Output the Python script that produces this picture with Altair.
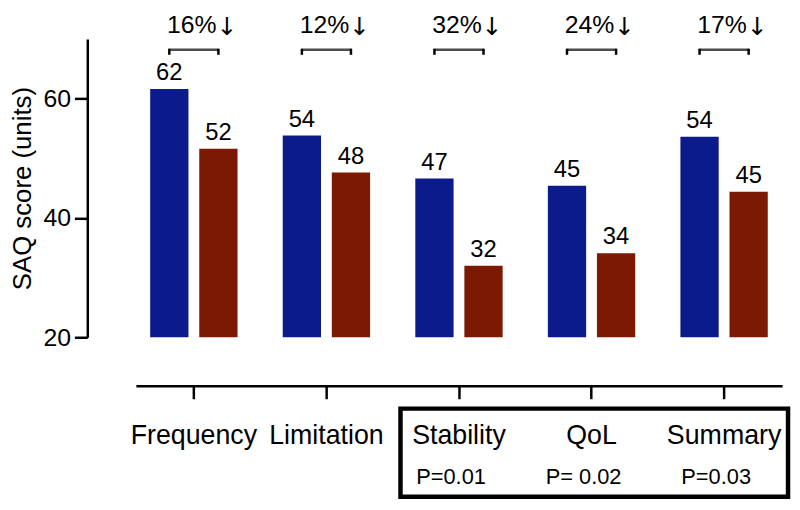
import altair as alt
import pandas as pd

# ---- data ----
categories = ["Frequency", "Limitation", "Stability", "QoL", "Summary"]
series = ["Before", "After"]
before_values = [61.6, 53.8, 46.6, 45.4, 53.6]
after_values = [51.6, 47.6, 32.0, 34.1, 44.4]
before_labels = ["62", "54", "47", "45", "54"]
after_labels = ["52", "48", "32", "34", "45"]
change_pct = ["16%", "12%", "32%", "24%", "17%"]
change_arrow = ["↓", "↓", "↓", "↓", "↓"]
boxed_categories = ["Stability", "QoL", "Summary"]
p_labels = ["P=0.01", "P= 0.02", "P=0.03"]
y_ticks = [20, 40, 60]
y_domain = [20, 70]
bar_colors = ["#0c1b8c", "#7c1903"]

rows = []
for i, c in enumerate(categories):
    rows.append({"category": c, "series": series[0], "value": before_values[i], "label": before_labels[i]})
    rows.append({"category": c, "series": series[1], "value": after_values[i], "label": after_labels[i]})
bars_df = pd.DataFrame(rows)
change_df = pd.DataFrame({"category": categories, "pct": change_pct, "arrow": change_arrow})
p_df = pd.DataFrame({"category": boxed_categories, "p": p_labels})
box_df = pd.DataFrame({"box": ["p-values"]})

FONT = "Liberation Sans"
ARROW_FONT = "DejaVu Sans"

x_enc = alt.X(
    "category:N",
    sort=categories,
    scale=alt.Scale(domain=categories, paddingInner=0.341, paddingOuter=0.108),
    axis=alt.Axis(
        title=None, offset=49, labelAngle=0,
        domainColor="black", domainWidth=2.5,
        tickColor="black", tickWidth=2.5, tickSize=13,
        labelFont=FONT, labelFontSize=27, labelColor="black", labelPadding=24,
        grid=False,
    ),
)
xo_enc = alt.XOffset(
    "series:N", sort=series,
    scale=alt.Scale(domain=series, paddingInner=0.22, paddingOuter=0),
)
y_enc = alt.Y(
    "value:Q",
    scale=alt.Scale(domain=y_domain, nice=False, zero=False),
    axis=alt.Axis(
        title="SAQ score (units)", values=y_ticks, offset=49,
        domainColor="black", domainWidth=2.5,
        tickColor="black", tickWidth=2.5, tickSize=13,
        labelFont=FONT, labelFontSize=25, labelColor="black", labelPadding=4,
        labelFlush=False,
        titleFont=FONT, titleFontSize=26, titleFontWeight="normal",
        titleColor="black", titlePadding=7,
        grid=False,
    ),
)

bars = alt.Chart(bars_df).mark_bar().encode(
    x=x_enc,
    xOffset=xo_enc,
    y=y_enc,
    y2=alt.datum(20),
    color=alt.Color("series:N", scale=alt.Scale(domain=series, range=bar_colors), legend=None),
)

value_text = alt.Chart(bars_df).mark_text(
    font=FONT, fontSize=24, baseline="alphabetic", dy=-9, color="black"
).encode(
    x=x_enc, xOffset=xo_enc, y=y_enc, text="label:N"
)

pct_text = alt.Chart(change_df).mark_text(
    font=FONT, fontSize=25, baseline="alphabetic", align="right", dx=23, color="black"
).encode(
    x=x_enc, y=alt.value(-6), text="pct:N"
)

arrow_text = alt.Chart(change_df).mark_text(
    font=ARROW_FONT, fontSize=25, baseline="alphabetic", align="left", dx=23, dy=2,
    color="black"
).encode(
    x=x_enc, y=alt.value(-6), text="arrow:N"
)

bracket_top = alt.Chart(change_df).mark_tick(
    orient="horizontal", size=51, thickness=2.5, color="black"
).encode(
    x=x_enc, y=alt.value(11)
)

bracket_ends = alt.Chart(bars_df).mark_rule(strokeWidth=2.5, color="black").encode(
    x=x_enc, xOffset=xo_enc, y=alt.value(10), y2=alt.value(16)
)

p_text = alt.Chart(p_df).mark_text(
    font=FONT, fontSize=22, baseline="middle", dx=-8, color="black"
).encode(
    x=x_enc, y=alt.value(442), text="p:N"
)

box = alt.Chart(box_df).mark_rect(
    fillOpacity=0, stroke="black", strokeWidth=4.5
).encode(
    x=alt.value(267), x2=alt.value(658), y=alt.value(373), y2=alt.value(462)
)

chart = alt.layer(
    bars, value_text, pct_text, arrow_text, bracket_top, bracket_ends, p_text, box
).properties(
    width=652,
    height=301,
    autosize="none",
    padding={"left": 129, "top": 29, "right": 10, "bottom": 164},
    background="white",
).configure_view(stroke=None)

chart.save("out.html", embed_options={"renderer": "svg", "actions": False})
